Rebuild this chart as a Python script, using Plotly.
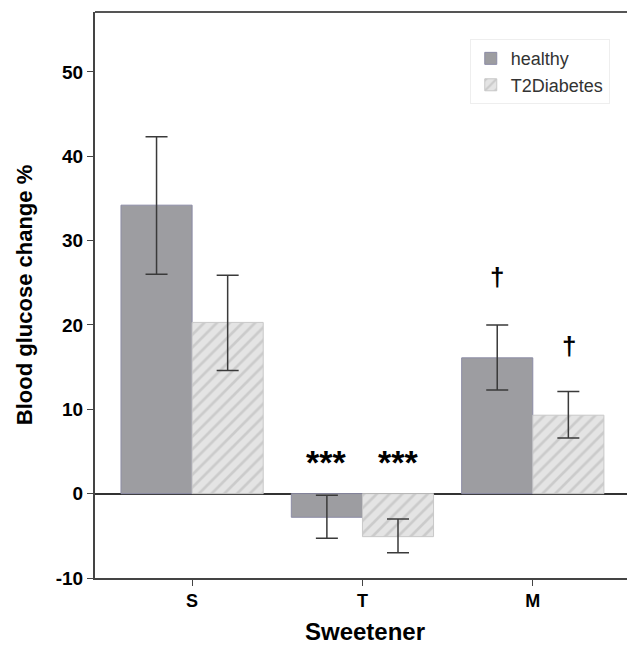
import plotly.graph_objects as go

categories = ["S", "T", "M"]
healthy = [34.2, -2.8, 16.1]
healthy_lo = [26.0, -5.3, 12.3]
healthy_hi = [42.3, -0.2, 20.0]
t2d = [20.3, -5.1, 9.3]
t2d_lo = [14.6, -7.0, 6.6]
t2d_hi = [25.9, -3.0, 12.1]
y_tickvals = [-10, 0, 10, 20, 30, 40, 50]
y_ticktext = ["-10", "0", "10", "20", "30", "40", "50"]
marks_healthy = ["", "***", "†"]
marks_t2d = ["", "***", "†"]
mark_y_healthy = [None, 3.8, 25.7]
mark_y_t2d = [None, 3.8, 17.5]

FONT = "Liberation Sans"

fig = go.Figure()
fig.add_trace(go.Bar(
    x=categories, y=healthy, name="healthy",
    marker=dict(color="#9d9da1", line=dict(color="#8c8ca6", width=1)),
    error_y=dict(type="data", symmetric=False,
                 array=[h - v for h, v in zip(healthy_hi, healthy)],
                 arrayminus=[v - l for v, l in zip(healthy, healthy_lo)],
                 color="#3a3a3a", thickness=1.5, width=11),
))
fig.add_trace(go.Bar(
    x=categories, y=t2d, name="T2Diabetes",
    marker=dict(color="#e2e2e2", line=dict(color="#c8c8c8", width=1),
                pattern=dict(shape="/", fgcolor="#b2b2b2", bgcolor="#e4e4e4", size=9, solidity=0.3)),
    error_y=dict(type="data", symmetric=False,
                 array=[h - v for h, v in zip(t2d_hi, t2d)],
                 arrayminus=[v - l for v, l in zip(t2d, t2d_lo)],
                 color="#3a3a3a", thickness=1.5, width=11),
))

annotations = []
for i, c in enumerate(categories):
    for mk, my, sh in ((marks_healthy[i], mark_y_healthy[i], -36), (marks_t2d[i], mark_y_t2d[i], 36)):
        if mk:
            annotations.append(dict(x=i, xshift=sh, y=my, xref="x", yref="y",
                                    text="<b>" + mk + "</b>", showarrow=False,
                                    font=dict(family=FONT, size=26 if mk == "†" else 34, color="black"),
                                    yanchor="middle"))

fig.update_layout(
    width=627, height=637,
    margin=dict(l=87, r=0, t=4, b=67),
    paper_bgcolor="white", plot_bgcolor="white",
    barmode="group", bargap=0.165, bargroupgap=0,
    font=dict(family=FONT, color="black"),
    showlegend=True,
    legend=dict(x=0.694, y=0.952, xanchor="left", yanchor="top",
                bgcolor="white", bordercolor="#eeeeee", borderwidth=1,
                font=dict(family=FONT, size=18, color="#333333"),
                tracegroupgap=0, itemwidth=30),
    annotations=annotations,
    shapes=[dict(type="line", xref="paper", yref="paper", x0=0, x1=1, y0=1, y1=1,
                 line=dict(color="#555555", width=2))],
    xaxis=dict(range=[-0.57, 2.6], showline=True, linecolor="#444444", linewidth=1.5,
               ticks="outside", ticklen=6, tickcolor="#444444", automargin=False,
               tickfont=dict(family=FONT, size=18, color="black", weight="bold"),
               title=dict(text="<b>Sweetener</b>", font=dict(family=FONT, size=24), standoff=15),
               showgrid=False),
    yaxis=dict(range=[-10, 57.1], showline=True, linecolor="#444444", linewidth=2,
               ticks="outside", ticklen=6, tickcolor="#444444", automargin=False,
               tickvals=y_tickvals, ticktext=y_ticktext,
               tickfont=dict(family=FONT, size=19, color="black", weight="bold"),
               title=dict(text="<b>Blood glucose change %</b>", font=dict(family=FONT, size=22), standoff=17),
               showgrid=False, zeroline=True, zerolinecolor="#333333", zerolinewidth=1.5),
)

fig.write_html("out.html")
